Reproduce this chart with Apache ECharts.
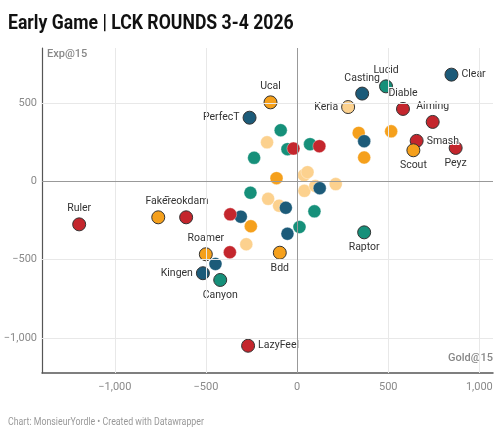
<!DOCTYPE html>
<html>
<head>
<meta charset="utf-8">
<script src="https://cdn.jsdelivr.net/npm/echarts@6/dist/echarts.min.js"></script>
<style>
  html, body { margin: 0; padding: 0; background: #fff; }
  #main { width: 500px; height: 440px; }
</style>
</head>
<body>
<div id="main"></div>
<script>
// players, gold diff @15, exp diff @15, colour group
var names = ['Ruler', 'Deokdam', 'Faker', 'Roamer', 'Kingen', 'Canyon', 'Bdd', 'LazyFeel',
  'PerfecT', 'Ucal', 'Casting', 'Lucid', 'Clear', 'Keria', 'Diable', 'Aiming', 'Smash', 'Scout', 'Peyz', 'Raptor'];
var gold = [-1196, -609, -762, -501, -517, -422, -95, -269,
  -261, -146, 357, 488, 847, 280, 581, 744, 656, 638, 870, 368];
var exp = [-276, -231, -231, -467, -588, -631, -457, -1051,
  405, 503, 559, 605, 680, 473, 461, 378, 257, 197, 212, -327];
var group = ['red', 'red', 'orange', 'orange', 'blue', 'teal', 'orange', 'red',
  'blue', 'orange', 'blue', 'teal', 'blue', 'light', 'red', 'red', 'red', 'orange', 'red', 'teal'];

// unlabeled players
var otherGold = [-165, 38, 57, 40, 100, 212, -159, -99, -279,
  -90, -53, 71, -236, -256, 95, 13,
  -254, -113, 338, 516, 368,
  -448, -309, 368, 124, -62, -53,
  -369, -367, -20, 122];
var otherExp = [248, 38, 57, -62, -31, -19, -113, -157, -403,
  325, 204, 236, 149, -74, -193, -293,
  -288, 19, 308, 318, 151,
  -529, -227, 255, -45, -170, -336,
  -454, -212, 208, 223];
var otherGroup = ['light', 'light', 'light', 'light', 'light', 'light', 'light', 'light', 'light',
  'teal', 'teal', 'teal', 'teal', 'teal', 'teal', 'teal',
  'orange', 'orange', 'orange', 'orange', 'orange',
  'blue', 'blue', 'blue', 'blue', 'blue', 'blue',
  'red', 'red', 'red', 'red'];

var xTicks = [-1000, -500, 0, 500, 1000];
var yTicks = [500, 0, -500, -1000];

var colors = { red: '#c4262d', orange: '#f5a01c', light: '#fcd18e', teal: '#16907a', blue: '#1c5b79' };
var labelPos = {
  Ruler: 'top', Deokdam: 'top', Faker: 'top', Roamer: 'top', Kingen: 'left', Canyon: 'bottom',
  Bdd: 'bottom', LazyFeel: 'right', PerfecT: 'left', Ucal: 'top', Casting: 'top', Lucid: 'top',
  Clear: 'right', Keria: 'left', Diable: 'top', Aiming: 'top', Smash: 'right', Scout: 'bottom',
  Peyz: 'bottom', Raptor: 'bottom'
};

function fmt(v) {
  var s = Math.abs(v).toString().replace(/\B(?=(\d{3})+(?!\d))/g, ',');
  return (v < 0 ? '\u2212' : '') + s;
}

var labeled = names.map(function (n, i) {
  return {
    name: n,
    value: [gold[i], exp[i]],
    itemStyle: { color: colors[group[i]] },
    label: { position: labelPos[n] }
  };
});
var others = otherGold.map(function (g, i) {
  return { value: [g, otherExp[i]], itemStyle: { color: colors[otherGroup[i]] } };
});

var gridLines = xTicks.filter(function (v) { return v !== 0; }).map(function (v) { return { xAxis: v }; })
  .concat(yTicks.filter(function (v) { return v !== 0; }).map(function (v) { return { yAxis: v }; }));

var font = 'Roboto, sans-serif';
var chart = echarts.init(document.getElementById('main'));
chart.setOption({
  animation: false,
  textStyle: { fontFamily: font },
  grid: { left: 42, right: 7, top: 48, bottom: 67 },
  xAxis: {
    type: 'value', min: -1400, max: 1075,
    axisLine: { show: true, onZero: false, lineStyle: { color: '#555', width: 1.5 } },
    axisTick: { show: false },
    splitLine: { show: false },
    axisLabel: { customValues: xTicks, formatter: fmt, color: '#8a8a8a', fontSize: 11, margin: 9 }
  },
  yAxis: {
    type: 'value', min: -1225, max: 850,
    axisLine: { show: true, onZero: false, lineStyle: { color: '#555', width: 1.2 } },
    axisTick: { show: false },
    splitLine: { show: false },
    axisLabel: { customValues: yTicks, formatter: fmt, color: '#8a8a8a', fontSize: 11, margin: 5 }
  },
  graphic: [
    { type: 'text', left: 8, top: 13, scaleX: 0.84, style: { text: 'Early Game | LCK ROUNDS 3-4 2026', font: 'bold 21px Roboto', fill: '#111' } },
    { type: 'text', left: 47, top: 49, style: { text: 'Exp@15', font: '500 11px Roboto', fill: '#888' } },
    { type: 'text', right: 7, top: 353, style: { text: 'Gold@15', font: '500 11px Roboto', fill: '#888' } },
    { type: 'text', left: 8, top: 417, scaleX: 0.88, style: { text: 'Chart: MonsieurYordle \u2022 Created with Datawrapper', font: '10px Roboto', fill: '#999' } }
  ],
  series: [
    {
      type: 'scatter', data: [], silent: true, z: 1,
      markLine: {
        silent: true, symbol: 'none', animation: false,
        label: { show: false },
        lineStyle: { color: '#e8e8e8', type: 'solid', width: 1 },
        data: gridLines.concat([
          { xAxis: 0, lineStyle: { color: '#999', width: 1, type: 'solid' } },
          { yAxis: 0, lineStyle: { color: '#999', width: 1, type: 'solid' } }
        ])
      }
    },
    {
      type: 'scatter', data: others, symbolSize: 13, z: 3, silent: true,
      itemStyle: { opacity: 1, borderColor: 'rgba(255,255,255,0.7)', borderWidth: 0.5 }
    },
    {
      type: 'scatter', data: labeled, symbolSize: 13, z: 4, silent: true,
      itemStyle: { opacity: 1, borderColor: '#333', borderWidth: 1 },
      label: {
        show: true, formatter: '{b}', fontSize: 10.5, color: '#333', distance: 3,
        textBorderColor: '#fff', textBorderWidth: 2
      }
    }
  ]
});
</script>
</body>
</html>
